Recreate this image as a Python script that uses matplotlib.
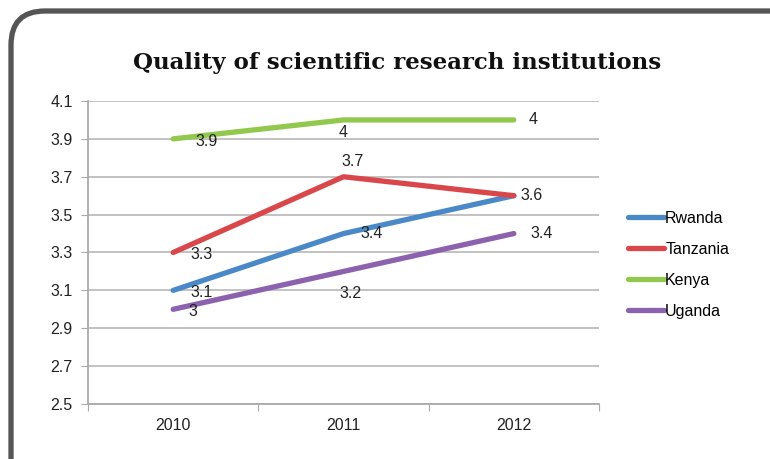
import matplotlib.pyplot as plt
from matplotlib.patches import FancyBboxPatch
from matplotlib.transforms import IdentityTransform

years = ["2010", "2011", "2012"]
countries = ["Rwanda", "Tanzania", "Kenya", "Uganda"]
rwanda = [3.1, 3.4, 3.6]
tanzania = [3.3, 3.7, 3.6]
kenya = [3.9, 4.0, 4.0]
uganda = [3.0, 3.2, 3.4]
colors = ["#4a89c8", "#d9474b", "#93c84f", "#8c62ae"]
y_ticks = [2.5, 2.7, 2.9, 3.1, 3.3, 3.5, 3.7, 3.9, 4.1]

# label offsets in pixels (None = no label)
label_offsets = {
    "Rwanda": [(28, -2), (28, 0), None],
    "Tanzania": [(28, -2), (9, 15), (18, 0)],
    "Kenya": [(33, -3), (0, -13), (19, 0)],
    "Uganda": [(20, -2), (7, -22), (28, 0)],
}

plt.rcParams["font.family"] = ["Liberation Sans", "DejaVu Sans"]
fs = 11.5

fig = plt.figure(figsize=(7.7, 4.59), dpi=100)

# rounded frame around the chart (pixel coordinates)
frame = FancyBboxPatch((11, -40), 800, 488,
                       boxstyle="round,pad=0,rounding_size=34",
                       transform=IdentityTransform(), facecolor="white",
                       edgecolor="#555555", linewidth=3.8, zorder=-5)
fig.patches.append(frame)

ax = fig.add_axes([88 / 770, 55 / 459, 511 / 770, 303 / 459])
ax.set_facecolor("none")
ax.set_zorder(2)

x = list(range(len(years)))
series = [rwanda, tanzania, kenya, uganda]
for name, vals, c in zip(countries, series, colors):
    ax.plot(x, vals, color=c, linewidth=3.8, solid_capstyle="round", label=name)
    for i, v in enumerate(vals):
        off = label_offsets[name][i]
        if off is None:
            continue
        ax.annotate(f"{v:g}", (i, v), textcoords="offset pixels", xytext=off,
                    ha="center", va="center", fontsize=fs, color="#222222")

ax.set_xlim(-0.5, 2.5)
ax.set_ylim(2.5, 4.1)
ax.set_yticks(y_ticks)
ax.set_yticklabels([f"{t:.1f}" for t in y_ticks])
ax.yaxis.grid(True, color="#bdbdbd", linewidth=1.3)
ax.set_axisbelow(True)

ax.set_xticks([-0.5, 0.5, 1.5, 2.5])
ax.set_xticklabels([])
ax.set_xticks(x, minor=True)
ax.set_xticklabels(years, minor=True)
ax.tick_params(axis="x", which="minor", length=0, pad=10)
ax.tick_params(axis="x", which="major", length=5, color="#aaaaaa")
ax.tick_params(axis="y", length=5, color="#aaaaaa", pad=6)
ax.tick_params(labelsize=fs, labelcolor="#222222", which="both")

for s in ["top", "right"]:
    ax.spines[s].set_visible(False)
for s in ["left", "bottom"]:
    ax.spines[s].set_color("#aaaaaa")
    ax.spines[s].set_linewidth(1.3)

leg = ax.legend(loc="center left", bbox_to_anchor=(1.028, 0.46), frameon=False,
                fontsize=fs, handlelength=2.25, handletextpad=0.1,
                labelspacing=1.0)

fig.text(397 / 770, 1 - 63 / 459, "Quality of scientific research institutions",
         ha="center", va="center", fontsize=16.5, fontweight="bold",
         family="DejaVu Serif", color="#111111")

fig.savefig("out.png", dpi=100)
